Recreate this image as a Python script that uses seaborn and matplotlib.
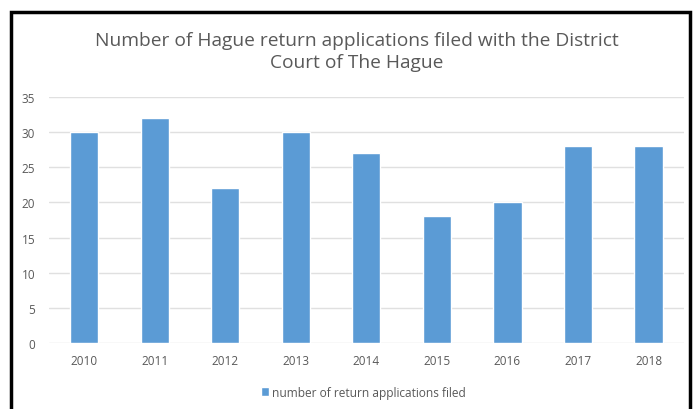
import pandas as pd
import matplotlib.pyplot as plt
import seaborn as sns
from matplotlib.patches import Rectangle

# chart data
years = ["2010", "2011", "2012", "2013", "2014", "2015", "2016", "2017", "2018"]
applications = [30, 32, 22, 30, 27, 18, 20, 28, 28]
series_name = "number of return applications filed"
title = "Number of Hague return applications filed with the District\nCourt of The Hague"

df = pd.DataFrame({"year": years, "filed": applications})

sns.set_theme(style="white")
plt.rcParams["font.family"] = ["Open Sans", "DejaVu Sans"]

grey = "#595959"
fig = plt.figure(figsize=(6.93, 4.10), dpi=100)
ax = fig.add_axes([0.0707, 0.161, 0.916, 0.600])

sns.barplot(data=df, x="year", y="filed", color="#5B9BD5", width=0.4,
            saturation=1, label=series_name, ax=ax, zorder=3)

ax.set_ylim(0, 35)
ax.set_yticks(range(0, 36, 5))
ax.grid(axis="y", color="#e0e0e0", linewidth=1, zorder=0)
ax.set_xlabel("")
ax.set_ylabel("")
for side in ["top", "right", "left", "bottom"]:
    ax.spines[side].set_visible(False)
ax.tick_params(axis="x", colors=grey, labelsize=8.5, length=0, pad=8)
ax.tick_params(axis="y", colors=grey, labelsize=8.5, length=0, pad=10)

fig.text(0.515, 0.873, title, ha="center", va="center", fontsize=13.8,
         color=grey, linespacing=1.25)

ax.legend(loc="upper center", bbox_to_anchor=(0.495, -0.13), frameon=False,
          fontsize=8.6, labelcolor=grey, handlelength=0.7, handleheight=0.7,
          handletextpad=0.2)

# black frame around the chart
fig.patches.append(Rectangle((11 / 693, -0.05), 679 / 693, 1.05 - 13 / 410,
                             transform=fig.transFigure, fill=False,
                             edgecolor="black", linewidth=2.5))

fig.savefig("out.png", dpi=100)
